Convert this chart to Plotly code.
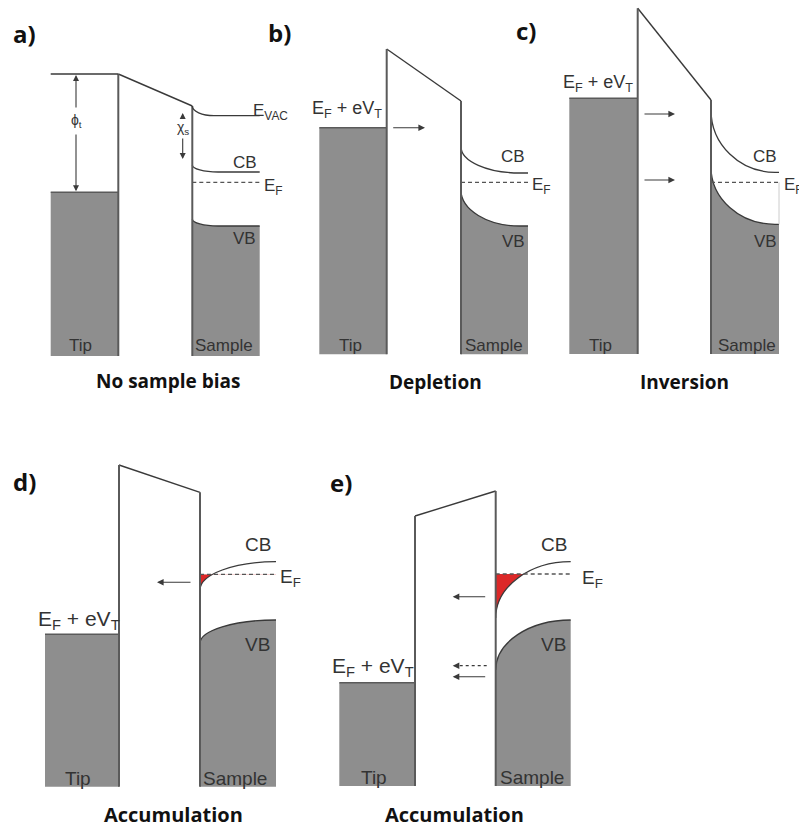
import plotly.graph_objects as go

W, H = 799, 828

# ---------------- panel data (diagram coordinates, y grows downward) ----------------
PANEL_LABELS = ["a)", "b)", "c)", "d)", "e)"]
PANEL_LABEL_X = [24, 279, 526, 24, 341]
PANEL_LABEL_Y = [33, 32, 30, 481, 482]
PANEL_TITLES = ["No sample bias", "Depletion", "Inversion", "Accumulation", "Accumulation"]
TITLE_X = [168, 435, 684, 173, 454]
TITLE_Y = [381, 382, 382, 814, 814]

TIP_LEFT = [50.7, 319.3, 569.3, 45.0, 339.3]
TIP_RIGHT = [118.3, 386.7, 637.7, 119.0, 415.0]
SAMPLE_LEFT = [192.3, 461.0, 711.0, 200.0, 495.7]
SAMPLE_RIGHT = [259.7, 528.0, 779.0, 276.0, 570.7]
BEND_END = [218.0, 520.0, 775.0, 276.0, 570.7]
BOTTOM = [356.0, 354.3, 354.0, 786.7, 786.0]
TIP_FERMI = [192.3, 127.7, 98.3, 634.3, 682.7]
BARRIER_TIP = [74.0, 49.0, 8.3, 465.0, 516.0]
BARRIER_SAMPLE = [106.0, 101.0, 100.0, 492.3, 491.0]
CB_SURFACE = [165.0, 146.7, 110.0, 590.0, 618.0]
CB_BULK = [172.0, 173.0, 172.3, 561.7, 561.7]
SAMPLE_EF = [182.3, 182.3, 182.3, 574.3, 574.0]
VB_SURFACE = [219.0, 190.0, 167.0, 643.3, 670.0]
VB_BULK = [226.0, 226.0, 224.3, 620.0, 620.0]
ACCUMULATED = [False, False, False, True, True]

# panel a extras
EVAC_BULK_A = 115.7
EVAC_BEND_END_A = 214.0
PHI_X, PHI_LABEL_Y = 76.0, 121.0
CHI_X, CHI_TOP, CHI_BOTTOM, CHI_LABEL_Y = 182.7, 113.0, 159.0, 128.0

# tunnelling arrows: panel, tail x, head x, y, dotted
ARROW_PANEL = [1, 2, 2, 3, 4, 4, 4]
ARROW_TAIL_X = [391.7, 643.0, 643.0, 192.0, 486.7, 486.7, 486.7]
ARROW_HEAD_X = [425.0, 675.0, 675.0, 157.0, 452.7, 452.7, 452.7]
ARROW_Y = [127.7, 114.0, 180.0, 582.3, 596.7, 665.7, 676.7]
ARROW_DOTTED = [False, False, False, False, False, True, False]

# text labels
CB_LABEL_X = [244.5, 512.5, 765.0, 257.5, 554.0]
CB_LABEL_Y = [162.5, 156.0, 156.5, 544.0, 544.0]
VB_LABEL_X = [244.5, 513.0, 765.0, 257.0, 553.0]
VB_LABEL_Y = [238.5, 241.0, 241.0, 644.0, 644.0]
EF_LABEL_X = [262.0, 530.0, 782.0, 278.0, 580.0]
EF_LABEL_Y = [187.0, 186.0, 186.0, 578.0, 579.0]
TIP_LABEL_X = [80.5, 350.0, 600.0, 77.5, 373.5]
TIP_LABEL_Y = [345.0, 345.0, 345.0, 778.0, 777.0]
SAMPLE_LABEL_X = [224.0, 493.5, 747.0, 235.0, 531.5]
BIAS_LABEL_X = [None, 347.0, 597.5, 78.5, 372.5]
BIAS_LABEL_Y = [None, 109.0, 83.0, 620.0, 667.0]
LABEL_SIZE = [17, 17, 17, 19, 19]
BIAS_SIZE = [17, 18, 18, 21, 21]
TITLE_SIZE = [19, 19, 19, 20, 20]

# ---------------- styles ----------------
GRAY = "rgb(142,142,142)"
LINE = "#3a3a3a"
EDGE = "#5a5a5a"
RED = "rgb(220,40,40)"
TXT = "#333333"
BOLD_FONT = "Open Sans, Lato"
KAPPA = 0.5523

shapes = []
annotations = []


def bend(x0, y0, x1, y1):
    return f"C {x0},{y0 + (y1 - y0) * KAPPA} {x1 - (x1 - x0) * KAPPA},{y1} {x1},{y1}"


def seg(x0, y0, x1, y1, color=LINE, width=1.4, dash="solid"):
    shapes.append(dict(type="line", xref="x", yref="y", x0=x0, y0=y0, x1=x1, y1=y1,
                       line=dict(color=color, width=width, dash=dash)))


def path(d, fill=None, color=LINE, width=1.4):
    shapes.append(dict(type="path", xref="x", yref="y", path=d,
                       fillcolor=fill if fill else "rgba(0,0,0,0)",
                       line=dict(color=color, width=width)))


def text(x, y, t, size, color=TXT, xanchor="center", family="Liberation Sans, Arial", bold=False):
    annotations.append(dict(x=x, y=y, xref="x", yref="y", text=f"<b>{t}</b>" if bold else t,
                            showarrow=False, xanchor=xanchor, yanchor="middle",
                            font=dict(size=size, color=color, family=family)))


def arrow(tx, hx, y, dotted=False):
    if dotted:
        seg(tx, y, hx + 4, y, color=LINE, width=1.2, dash="dot")
        annotations.append(dict(x=hx, y=y, ax=hx + 5, ay=y, xref="x", yref="y", axref="x", ayref="y",
                                text="", showarrow=True, arrowhead=2, arrowsize=1.2,
                                arrowwidth=1.1, arrowcolor=LINE))
    else:
        annotations.append(dict(x=hx, y=y, ax=tx, ay=y, xref="x", yref="y", axref="x", ayref="y",
                                text="", showarrow=True, arrowhead=2, arrowsize=1.2,
                                arrowwidth=1.1, arrowcolor=LINE))


for i in range(5):
    tl, tr = TIP_LEFT[i], TIP_RIGHT[i]
    sl, sr = SAMPLE_LEFT[i], SAMPLE_RIGHT[i]
    be = BEND_END[i]
    bot = BOTTOM[i]
    ef = SAMPLE_EF[i]

    # tip metal (filled up to Fermi level)
    shapes.append(dict(type="rect", xref="x", yref="y", x0=tl, x1=tr, y0=TIP_FERMI[i], y1=bot,
                       fillcolor=GRAY, line=dict(width=0)))
    seg(tl, TIP_FERMI[i], tr, TIP_FERMI[i], color=EDGE, width=1.5)

    # sample valence band filled region
    d = f"M {sl},{bot} L {sl},{VB_SURFACE[i]} " + bend(sl, VB_SURFACE[i], be, VB_BULK[i])
    if be < sr:
        d += f" L {sr},{VB_BULK[i]}"
    d += f" L {sr},{bot} Z"
    path(d, fill=GRAY, color="rgba(0,0,0,0)", width=0)

    # accumulated electrons (red) under E_F
    if ACCUMULATED[i]:
        d = f"M {sl},{ef} L {sl},{CB_SURFACE[i]} " + bend(sl, CB_SURFACE[i], be, CB_BULK[i]) + f" L {be},{ef} Z"
        path(d, fill=RED, color="rgba(0,0,0,0)", width=0)
        shapes.append(dict(type="rect", xref="x", yref="y", x0=sl + 1, x1=be + 1,
                           y0=CB_BULK[i] - 2, y1=ef, fillcolor="white", line=dict(width=0)))

    # band edges
    d = f"M {sl},{CB_SURFACE[i]} " + bend(sl, CB_SURFACE[i], be, CB_BULK[i])
    if be < sr:
        d += f" L {sr},{CB_BULK[i]}"
    path(d, color=LINE, width=1.3)
    d = f"M {sl},{VB_SURFACE[i]} " + bend(sl, VB_SURFACE[i], be, VB_BULK[i])
    if be < sr:
        d += f" L {sr},{VB_BULK[i]}"
    path(d, color=LINE, width=1.3)

    # sample Fermi level
    seg(sl, ef, sr, ef, color="#555555", width=1.3, dash="4px,3px")

    # vacuum barrier
    seg(tr, BARRIER_TIP[i], sl, BARRIER_SAMPLE[i], color=LINE, width=1.4)
    seg(tr, BARRIER_TIP[i], tr, bot, color=EDGE, width=2.0)
    seg(sl, BARRIER_SAMPLE[i], sl, bot, color=EDGE, width=2.0)

    # labels
    fs = LABEL_SIZE[i]
    text(TIP_LABEL_X[i], TIP_LABEL_Y[i], "Tip", fs)
    text(SAMPLE_LABEL_X[i], TIP_LABEL_Y[i], "Sample", fs)
    text(CB_LABEL_X[i], CB_LABEL_Y[i], "CB", fs)
    text(VB_LABEL_X[i], VB_LABEL_Y[i], "VB", fs)
    text(EF_LABEL_X[i], EF_LABEL_Y[i], "E<sub>F</sub>", fs, xanchor="left")
    if BIAS_LABEL_X[i] is not None:
        text(BIAS_LABEL_X[i], BIAS_LABEL_Y[i], "E<sub>F</sub> + eV<sub>T</sub>", BIAS_SIZE[i])
    text(PANEL_LABEL_X[i], PANEL_LABEL_Y[i], PANEL_LABELS[i], 24, color="#111111",
         family=BOLD_FONT, bold=True)
    text(TITLE_X[i], TITLE_Y[i], PANEL_TITLES[i], TITLE_SIZE[i], color="#111111",
         family=BOLD_FONT, bold=True)

# panel a: vacuum level of tip and bending vacuum level of sample
seg(TIP_LEFT[0], BARRIER_TIP[0], TIP_RIGHT[0], BARRIER_TIP[0], color=LINE, width=1.4)
path(f"M {SAMPLE_LEFT[0]},{BARRIER_SAMPLE[0]} "
     + bend(SAMPLE_LEFT[0], BARRIER_SAMPLE[0], EVAC_BEND_END_A, EVAC_BULK_A)
     + f" L {SAMPLE_RIGHT[0]},{EVAC_BULK_A}", color=LINE, width=1.3)
text(251, 112, "E<sub>VAC</sub>", 17, xanchor="left")

# panel c: thin edge of gap region
seg(SAMPLE_RIGHT[2], SAMPLE_EF[2], SAMPLE_RIGHT[2], VB_BULK[2], color="#cccccc", width=1)

# work function / electron affinity double arrows
for (y_head, y_tail) in [(BARRIER_TIP[0] + 1, PHI_LABEL_Y - 12), (TIP_FERMI[0] - 1, PHI_LABEL_Y + 12)]:
    annotations.append(dict(x=PHI_X, y=y_head, ax=PHI_X, ay=y_tail, xref="x", yref="y", axref="x",
                            ayref="y", text="", showarrow=True, arrowhead=2, arrowsize=1.1,
                            arrowwidth=1.1, arrowcolor=LINE))
text(PHI_X, PHI_LABEL_Y, "ϕ<sub>t</sub>", 14)
for (y_head, y_tail) in [(CHI_TOP, CHI_LABEL_Y - 8), (CHI_BOTTOM, CHI_LABEL_Y + 9)]:
    annotations.append(dict(x=CHI_X, y=y_head, ax=CHI_X, ay=y_tail, xref="x", yref="y", axref="x",
                            ayref="y", text="", showarrow=True, arrowhead=2, arrowsize=1.1,
                            arrowwidth=1.1, arrowcolor=LINE))
text(CHI_X, CHI_LABEL_Y, "χ<sub>s</sub>", 14)

# tunnelling arrows
for p, tx, hx, y, dot in zip(ARROW_PANEL, ARROW_TAIL_X, ARROW_HEAD_X, ARROW_Y, ARROW_DOTTED):
    arrow(tx, hx, y, dot)

fig = go.Figure(go.Scatter(x=[0, W], y=[0, H], mode="markers", marker=dict(opacity=0),
                           hoverinfo="skip", showlegend=False))
fig.update_layout(
    width=W, height=H, autosize=False,
    margin=dict(l=0, r=0, t=0, b=0, pad=0),
    paper_bgcolor="white", plot_bgcolor="white",
    xaxis=dict(range=[0, W], visible=False, fixedrange=True),
    yaxis=dict(range=[H, 0], visible=False, fixedrange=True),
    shapes=shapes, annotations=annotations, showlegend=False,
)
fig.write_html("out.html")
